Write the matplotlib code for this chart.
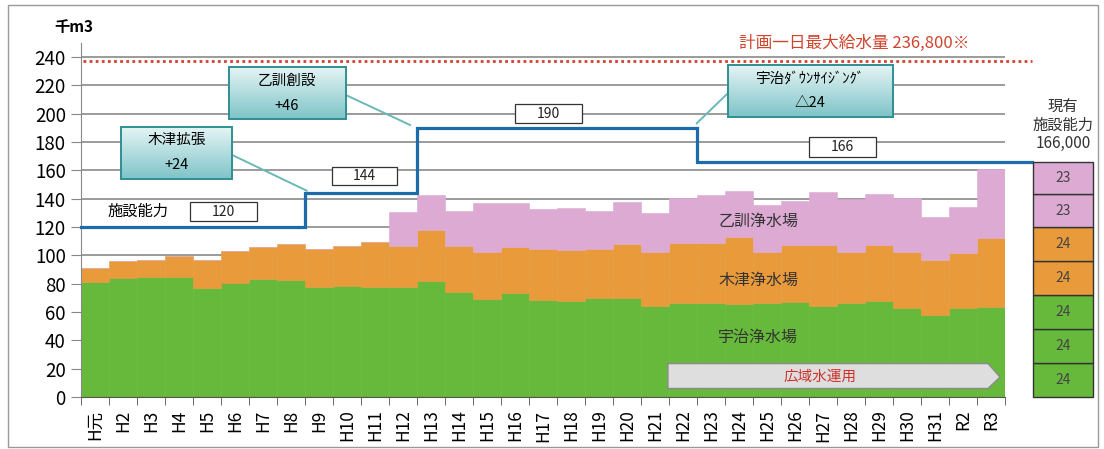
import matplotlib
matplotlib.use('Agg')
import matplotlib.pyplot as plt
from matplotlib.patches import Rectangle, Polygon
import numpy as np

plt.rcParams['font.family'] = ['Noto Sans CJK JP', 'DejaVu Sans']

# 年度
years = ['H元'] + [f'H{i}' for i in range(2, 32)] + ['R2', 'R3']

# 各浄水場の配水量（千m3）
uji = [81.4, 84.2, 84.9, 84.5, 76.7, 80.2, 83.1, 82.6, 77.9, 78.6, 77.9,
       77.9, 82.1, 74.3, 69.2, 73.2, 68.5, 68.0, 70.1, 70.1, 64.2, 66.6,
       66.6, 65.4, 66.1, 67.3, 64.2, 66.1, 68.0, 62.6, 57.9, 62.6, 63.8]
kizu = [9.9, 12.0, 11.8, 15.0, 20.2, 23.1, 23.0, 25.4, 26.3, 28.0, 31.5,
        28.4, 35.8, 32.3, 33.4, 32.9, 36.2, 35.8, 34.6, 38.2, 38.0, 41.9,
        42.4, 47.8, 36.4, 40.0, 43.1, 36.5, 39.3, 40.0, 38.8, 38.8, 48.2]
otokuni = [0] * 11 + [24.4, 24.4, 24.9, 34.6, 31.1, 28.0, 29.5, 26.9, 29.0,
                      28.0, 32.0, 33.3, 32.4, 33.0, 31.3, 37.6, 36.9, 35.8,
                      37.6, 30.1, 32.9, 48.7]

# 施設能力の推移
cap_years = ['H元', 'H9', 'H13', 'H23']
cap_values = [120, 144, 190, 166]
plan_max = 236.8

# 現有施設能力の内訳（宇治・木津・乙訓）
cur_values = [24, 24, 24, 24, 24, 23, 23]
cur_colors = ['#66b93a'] * 3 + ['#e99a3a'] * 2 + ['#dcaad2'] * 2

green = '#66b93a'
orange = '#e99a3a'
pink = '#dcaad2'

fig = plt.figure(figsize=(11.04, 4.49), dpi=100)
ax = fig.add_axes([0.0734, 0.1158, 0.8370, 0.7889])

x = np.arange(len(years))
ax.bar(x, uji, width=1.0, color=green, edgecolor=green, lw=0.4, zorder=2)
ax.bar(x, kizu, width=1.0, bottom=uji, color=orange, edgecolor=orange,
       lw=0.4, zorder=2)
ax.bar(x, otokuni, width=1.0, bottom=np.array(uji) + np.array(kizu),
       color=pink, edgecolor=pink, lw=0.4, zorder=2)

# 施設能力（階段線）
idx = [years.index(y) - 0.5 for y in cap_years]
sx, sy = [], []
for i, v in enumerate(cap_values):
    x0 = idx[i]
    x1 = idx[i + 1] if i + 1 < len(idx) else 33.46
    sx += [x0, x1]
    sy += [v, v]
ax.plot(sx, sy, color='#1b6ca8', lw=2.3, zorder=5, clip_on=False,
        solid_joinstyle='miter')

# 計画一日最大給水量
ax.plot([-0.43, 33.46], [plan_max, plan_max], color='#d0432c', lw=2,
        linestyle=(0, (1, 1.2)), zorder=4, clip_on=False)
ax.text(23.0, 249.5, '計画一日最大給水量 236,800※', color='#d0432c',
        fontsize=12, va='center', ha='left')

# 値ラベル
for (x0, x1, y0, y1), s in zip(
        [(3.39, 5.79, 124.2, 137.5), (8.46, 10.79, 149.6, 162.0),
         (15.0, 17.4, 193.2, 206.8), (25.5, 27.9, 169.6, 183.3)],
        ['120', '144', '190', '166']):
    ax.add_patch(Rectangle((x0, y0), x1 - x0, y1 - y0, facecolor='white',
                           edgecolor='#333333', lw=0.9, zorder=6))
    ax.text((x0 + x1) / 2, (y0 + y1) / 2, s, fontsize=10, ha='center',
            va='center', zorder=7, color='#222222')

ax.text(0.43, 131, '施設能力', fontsize=11, ha='left', va='center', zorder=7)

# 吹き出し
grad = np.linspace(0, 1, 64).reshape(-1, 1)
teal_cmap = matplotlib.colors.LinearSegmentedColormap.from_list(
    'teal', ['#7fc4c8', '#e6f5f5'])


def callout(x0, x1, y0, y1, lines, p0, p1):
    ax.imshow(grad, extent=[x0, x1, y0, y1], aspect='auto', cmap=teal_cmap,
              origin='lower', zorder=8)
    ax.add_patch(Rectangle((x0, y0), x1 - x0, y1 - y0, facecolor='none',
                           edgecolor='#2f8f95', lw=1.4, zorder=9))
    ym = (y0 + y1) / 2
    dy = (y1 - y0) / 4.2
    ax.text((x0 + x1) / 2, ym + dy, lines[0], fontsize=10.5, ha='center',
            va='center', zorder=10)
    ax.text((x0 + x1) / 2, ym - dy, lines[1], fontsize=10.5, ha='center',
            va='center', zorder=10)
    ax.plot([p0[0], p1[0]], [p0[1], p1[1]], color='#6ab8b8', lw=1.4,
            zorder=7)


callout(0.92, 4.90, 153.7, 190.8, ['木津拡張', '+24'], (4.9, 170.8), (7.56, 145.6))
callout(4.77, 8.95, 196.0, 233.1, ['乙訓創設', '+46'], (8.95, 213.2), (11.25, 192.0))
callout(22.6, 28.5, 197.6, 234.4, ['宇治ﾀﾞｳﾝｻｲｼﾞﾝｸﾞ', '△24'], (22.6, 214.4), (21.49, 193.2))

# 浄水場名
ax.text(23.68, 123.7, '乙訓浄水場', fontsize=11.5, ha='center', va='center',
        zorder=7, color='#333333')
ax.text(23.68, 82.6, '木津浄水場', fontsize=11.5, ha='center', va='center',
        zorder=7, color='#333333')
ax.text(23.68, 42.4, '宇治浄水場', fontsize=11.5, ha='center', va='center',
        zorder=7, color='#333333')

# 広域水運用 矢印
ax.add_patch(Polygon([(20.46, 23.6), (31.89, 23.6), (32.32, 14.1),
                      (31.89, 6.0), (20.46, 6.0)], closed=True,
                     facecolor='#dedede', edgecolor='#8a8a8a', lw=1, zorder=6))
ax.text(25.9, 14.1, '広域水運用', fontsize=10.5, color='#d0302a', ha='center',
        va='center', zorder=7)

# 現有施設能力
bottom = 0
for v, c in zip(cur_values, cur_colors):
    ax.add_patch(Rectangle((33.5, bottom), 2.14, v, facecolor=c,
                           edgecolor='#333333', lw=1, zorder=6, clip_on=False))
    ax.text(34.57, bottom + v / 2, str(v), fontsize=10, ha='center',
            va='center', color='#444444', zorder=7)
    bottom += v
ax.text(34.57, 192, '現有\n施設能力\n166,000', fontsize=11, ha='center',
        va='center', linespacing=1.15, color='#333333')

ax.text(-1.45, 261, '千m3', fontsize=11, fontweight='bold', ha='left',
        va='center')

# 軸
ax.set_xlim(-0.5, 32.5)
ax.set_ylim(0, 250)
ax.set_yticks(range(0, 241, 20))
ax.tick_params(axis='y', labelsize=13.5, length=7, color='#888888', pad=4)
ax.set_xticks(x)
ax.set_xticklabels(years, rotation=90, fontsize=12.5)
ax.set_xticks(np.arange(-0.5, 33, 1), minor=True)
ax.tick_params(axis='x', which='major', length=0, pad=9)
ax.tick_params(axis='x', which='minor', length=6, color='#555555')
for yv in range(20, 241, 20):
    ax.axhline(yv, color='#8a8a8a', lw=1.2, zorder=1)
ax.spines['top'].set_visible(False)
ax.spines['right'].set_visible(False)
ax.spines['left'].set_color('#888888')
ax.spines['bottom'].set_color('#555555')
ax.spines['bottom'].set_zorder(6)

# 外枠
fig.patches.append(Rectangle((8 / 1104, 1 - 447 / 449), 1090 / 1104, 442 / 449,
                             transform=fig.transFigure, fill=False,
                             edgecolor='#999999', lw=1))

fig.savefig('out.png', dpi=100, facecolor='white')
